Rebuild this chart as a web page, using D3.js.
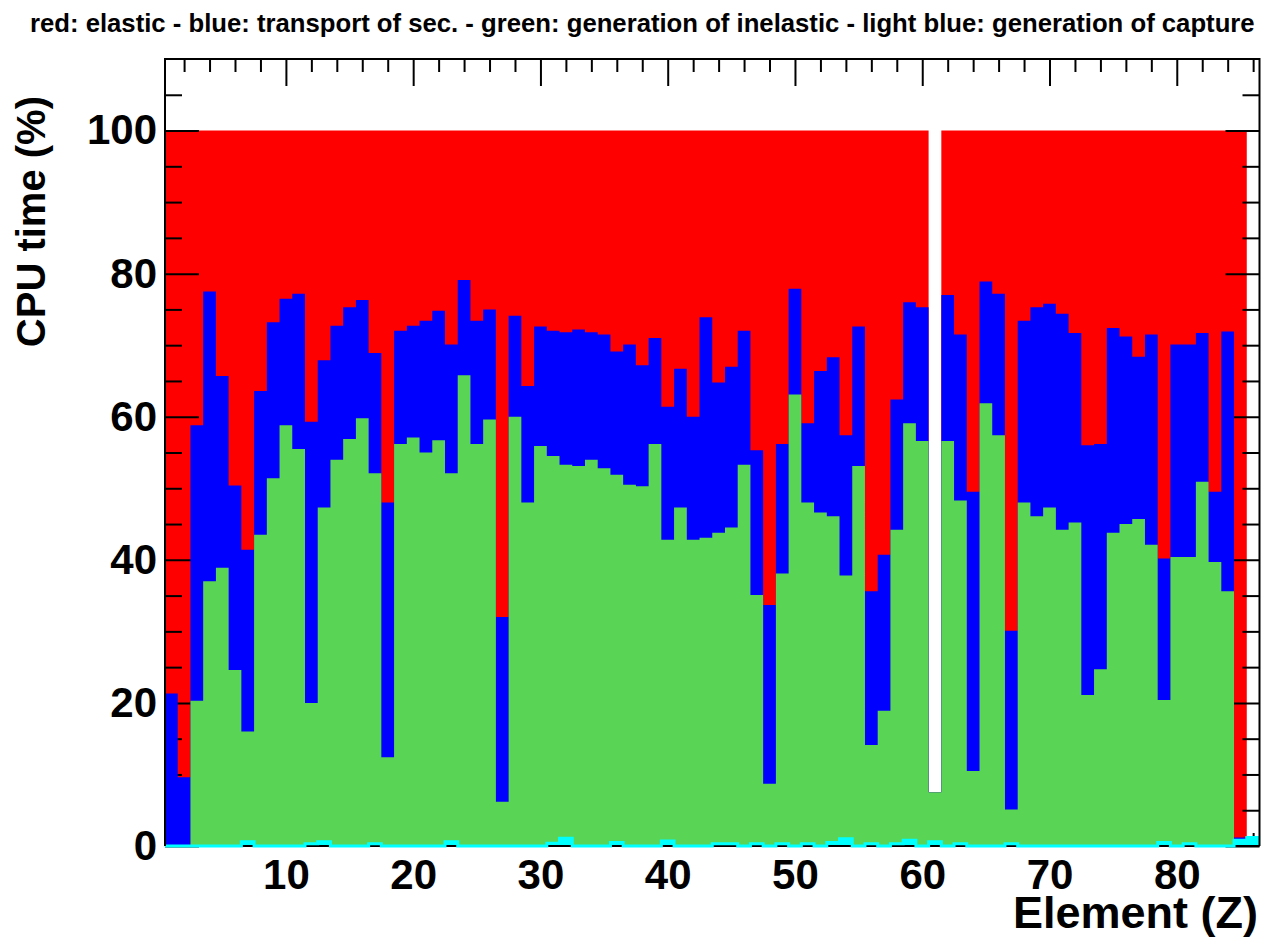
<!DOCTYPE html>
<html>
<head>
<meta charset="utf-8">
<script src="https://cdn.jsdelivr.net/npm/d3@7"></script>
<style>
  body { margin: 0; background: #ffffff; }
  text { font-family: "Liberation Sans", Arial, Helvetica, sans-serif; font-weight: bold; }
</style>
</head>
<body>
<svg id="chart" width="1261" height="939"></svg>
<script>
// Neutron processes: share of CPU time per target element (Z = 1..86).
// Each array holds the cumulative level reached by a process and all processes drawn below it.
const elementZ = d3.range(1, 87);

// elastic + transport + inelastic + capture (100 %, empty for Z = 61)
const levelElastic = [
  100, 100, 100, 100, 100, 100, 100, 100, 100, 100,
  100, 100, 100, 100, 100, 100, 100, 100, 100, 100,
  100, 100, 100, 100, 100, 100, 100, 100, 100, 100,
  100, 100, 100, 100, 100, 100, 100, 100, 100, 100,
  100, 100, 100, 100, 100, 100, 100, 100, 100, 100,
  100, 100, 100, 100, 100, 100, 100, 100, 100, 100,
  7.5, 100, 100, 100, 100, 100, 100, 100, 100, 100,
  100, 100, 100, 100, 100, 100, 100, 100, 100, 100,
  100, 100, 100, 100, 100, 1.2
];

// transport of secondaries + inelastic + capture
const levelTransport = [
  21.3, 9.6, 58.8, 77.5, 65.7, 50.4, 41.4, 63.6, 73.2, 76.5,
  77.2, 59.3, 67.9, 72.7, 75.3, 76.3, 68.9, 48.0, 72.0, 72.7,
  73.4, 74.8, 70.1, 79.1, 73.4, 75.0, 32.0, 74.1, 64.3, 72.6,
  72.0, 71.8, 72.2, 71.8, 71.5, 69.1, 70.1, 67.2, 71.0, 61.4,
  66.7, 60.0, 73.9, 64.8, 67.0, 72.0, 55.3, 33.7, 56.2, 77.9,
  59.1, 66.4, 68.3, 57.4, 72.6, 35.6, 40.7, 62.4, 76.0, 75.3,
  7.5, 77.0, 71.5, 49.5, 78.9, 77.2, 30.1, 73.4, 75.3, 75.8,
  74.4, 71.7, 56.0, 56.2, 72.4, 71.2, 68.4, 71.5, 40.2, 70.1,
  70.1, 71.7, 49.5, 71.9, 1.2, 1.2
];

// generation of inelastic + capture
const levelInelastic = [
  0, 0, 20.3, 37.0, 38.9, 24.6, 16.0, 43.5, 51.4, 58.8,
  55.5, 20.0, 47.3, 54.0, 56.9, 59.8, 52.1, 12.4, 56.2, 57.1,
  55.0, 56.7, 52.1, 65.8, 56.2, 59.6, 6.2, 60.0, 48.0, 55.9,
  54.5, 53.3, 53.1, 54.0, 52.8, 51.9, 50.5, 50.3, 56.2, 42.8,
  47.3, 42.8, 43.1, 43.8, 44.5, 53.3, 35.1, 8.7, 38.1, 63.1,
  48.0, 46.6, 46.1, 37.8, 53.1, 14.1, 18.9, 44.2, 59.1, 56.6,
  7.5, 56.6, 48.3, 10.5, 61.9, 57.4, 5.1, 48.0, 46.1, 47.3,
  44.2, 45.2, 21.1, 24.7, 43.8, 45.0, 45.7, 42.1, 20.4, 40.4,
  40.4, 50.9, 39.7, 35.6, 0.8, 1.2
];

// generation of capture
const levelCapture = [
  0, 0, 0, 0, 0, 0, 0.6, 0, 0, 0,
  0, 0.3, 0.6, 0, 0, 0, 0.3, 0, 0, 0,
  0, 0, 0.6, 0, 0, 0, 0, 0, 0, 0,
  0.4, 1.1, 0, 0, 0, 0.5, 0, 0, 0, 0.7,
  0, 0, 0, 0.3, 0.3, 0, 0.3, 0, 0.3, 0,
  0.3, 0, 0.5, 1.0, 0, 0.3, 0, 0.3, 0.8, 0,
  0.6, 0, 0.3, 0, 0, 0, 0.3, 0, 0, 0,
  0, 0, 0, 0, 0, 0, 0, 0, 0.5, 0,
  0.3, 0, 0, 0, 0.8, 1.2
];

const xMajorTicks = [10, 20, 30, 40, 50, 60, 70, 80];
const xMinorTicks = d3.range(2, 87, 2).filter(v => v % 10 !== 0);
const yMajorTicks = [0, 20, 40, 60, 80, 100];
const yMinorTicks = d3.range(5, 110, 5).filter(v => v % 20 !== 0);

const titleText = "red: elastic - blue: transport of sec. - green: generation of inelastic - light blue: generation of capture";
const xTitle = "Element (Z)";
const yTitle = "CPU time (%)";

const colors = {
  elastic: "#ff0000",
  transport: "#0000ff",
  inelastic: "#59d454",
  capture: "#00ffff"
};

const frame = { left: 165, right: 1259.5, top: 59, bottom: 846 };

const x = d3.scaleLinear().domain([0.5, 86.5]).range([frame.left, frame.right]);
const y = d3.scaleLinear().domain([0, 110]).range([frame.bottom, frame.top]);

const svg = d3.select("#chart");

// step outline for a histogram: two points per bin (low edge, high edge)
function stepPoints(values) {
  const pts = [];
  elementZ.forEach((z, i) => {
    pts.push([z - 0.5, values[i]]);
    pts.push([z + 0.5, values[i]]);
  });
  return pts;
}

const histArea = d3.area()
  .x(p => x(p[0]))
  .y0(y(0))
  .y1(p => y(p[1]));

const histLine = d3.line()
  .x(p => x(p[0]))
  .y(p => y(p[1]));

// title
svg.append("text")
  .attr("x", 30)
  .attr("y", 32)
  .attr("font-size", 25.7)
  .attr("fill", "#000")
  .text(titleText);

// elastic (total) histogram
svg.append("path")
  .attr("d", histArea(stepPoints(levelElastic)))
  .attr("fill", colors.elastic);

// axes
function styleAxis(g) {
  g.select(".domain").remove();
  g.selectAll(".tick line").attr("stroke", "#000").attr("stroke-width", 2);
  g.selectAll(".tick text")
    .attr("fill", "#000")
    .attr("font-size", 42)
    .attr("font-family", "'Liberation Sans', Arial, Helvetica, sans-serif")
    .attr("font-weight", "bold");
}

const axes = svg.append("g").attr("class", "axes");

axes.append("g")
  .attr("transform", `translate(0,${frame.bottom})`)
  .call(d3.axisBottom(x).tickValues(xMinorTicks).tickSize(-13).tickFormat(""))
  .call(styleAxis);
axes.append("g")
  .attr("transform", `translate(0,${frame.bottom})`)
  .call(d3.axisBottom(x).tickValues(xMajorTicks).tickSize(-27).tickPadding(13).tickFormat(d3.format("d")))
  .call(styleAxis);
axes.append("g")
  .attr("transform", `translate(0,${frame.top})`)
  .call(d3.axisTop(x).tickValues(xMinorTicks).tickSize(-13).tickFormat(""))
  .call(styleAxis);
axes.append("g")
  .attr("transform", `translate(0,${frame.top})`)
  .call(d3.axisTop(x).tickValues(xMajorTicks).tickSize(-27).tickFormat(""))
  .call(styleAxis);
axes.append("g")
  .attr("transform", `translate(${frame.left},0)`)
  .call(d3.axisLeft(y).tickValues(yMinorTicks).tickSize(-17).tickFormat(""))
  .call(styleAxis);
axes.append("g")
  .attr("transform", `translate(${frame.left},0)`)
  .call(d3.axisLeft(y).tickValues(yMajorTicks).tickSize(-34).tickPadding(8).tickFormat(d3.format("d")))
  .call(styleAxis);
axes.append("g")
  .attr("transform", `translate(${frame.right},0)`)
  .call(d3.axisRight(y).tickValues(yMinorTicks).tickSize(-17).tickFormat(""))
  .call(styleAxis);
axes.append("g")
  .attr("transform", `translate(${frame.right},0)`)
  .call(d3.axisRight(y).tickValues(yMajorTicks).tickSize(-34).tickFormat(""))
  .call(styleAxis);

// transport and inelastic histograms drawn over the axes
svg.append("path")
  .attr("d", histArea(stepPoints(levelTransport)))
  .attr("fill", colors.transport);
svg.append("path")
  .attr("d", histArea(stepPoints(levelInelastic)))
  .attr("fill", colors.inelastic);

// bottom frame edge, partly hidden by the capture histogram line
svg.append("line")
  .attr("x1", frame.left).attr("x2", frame.right)
  .attr("y1", frame.bottom).attr("y2", frame.bottom)
  .attr("stroke", "#000").attr("stroke-width", 2);

// capture histogram
svg.append("path")
  .attr("d", d3.area().x(p => x(p[0])).y0(y(0) - 1).y1(p => y(p[1]))(stepPoints(levelCapture)))
  .attr("fill", colors.capture);
svg.append("path")
  .attr("d", histLine(stepPoints(levelCapture)))
  .attr("fill", "none")
  .attr("stroke", colors.capture)
  .attr("stroke-width", 3);

// left, top and right frame edges
svg.append("path")
  .attr("d", `M${frame.left},${frame.bottom}V${frame.top}H${frame.right}V${frame.bottom}`)
  .attr("fill", "none")
  .attr("stroke", "#000")
  .attr("stroke-width", 2);

// axis titles
svg.append("text")
  .attr("x", 1258)
  .attr("y", 928)
  .attr("text-anchor", "end")
  .attr("font-size", 45)
  .attr("fill", "#000")
  .text(xTitle);

svg.append("text")
  .attr("transform", "translate(45,96) rotate(-90)")
  .attr("text-anchor", "end")
  .attr("font-size", 40)
  .attr("fill", "#000")
  .text(yTitle);
</script>
</body>
</html>
